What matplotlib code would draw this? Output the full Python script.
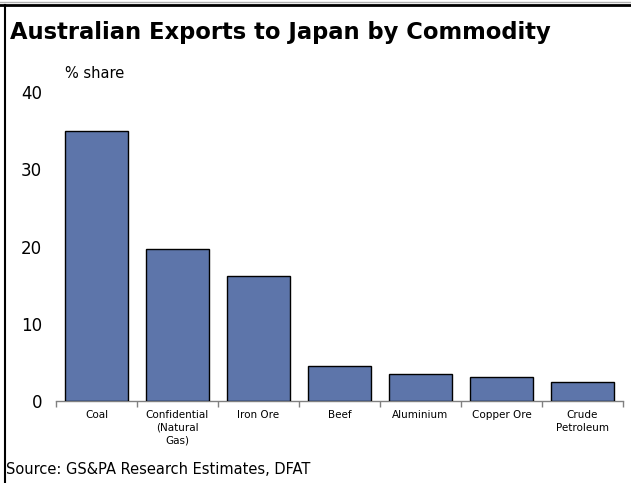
import matplotlib

matplotlib.use("Agg")
import matplotlib.pyplot as plt
import numpy as np
from matplotlib.lines import Line2D

commodities = [
    "Coal",
    "Confidential\n(Natural\nGas)",
    "Iron Ore",
    "Beef",
    "Aluminium",
    "Copper Ore",
    "Crude\nPetroleum",
]
share = [35.0, 19.7, 16.2, 4.5, 3.5, 3.1, 2.5]
y_ticks = [0, 10, 20, 30, 40]

W, H = 631, 483
fig = plt.figure(figsize=(W / 100, H / 100), dpi=100)
fig.patch.set_facecolor("white")

# plot area in pixel coordinates: x 56..623, y 92 (40) .. 401 (0)
left, right, top, bottom = 56, 623, 92, 401
ax = fig.add_axes([left / W, 1 - bottom / H, (right - left) / W, (bottom - top) / H])

x = np.arange(len(commodities))
ax.bar(x, share, width=0.77, color="#5D75AA", edgecolor="black", linewidth=1.0, zorder=3)

ax.set_xlim(-0.5, len(commodities) - 0.5)
ax.set_ylim(0, 40)
ax.set_yticks(y_ticks)
ax.set_yticklabels([str(v) for v in y_ticks], fontsize=12)
ax.tick_params(axis="y", length=0, pad=10)

# category ticks sit on the boundaries between bars
ax.set_xticks(np.arange(len(commodities) + 1) - 0.5)
ax.set_xticklabels([])
ax.tick_params(axis="x", direction="out", length=4, width=1, color="#808080")
for xi, label in zip(x, commodities):
    ax.text(xi, -1.2, label, ha="center", va="top", fontsize=7.5, linespacing=1.3)

for side in ("top", "right", "left"):
    ax.spines[side].set_visible(False)
ax.spines["bottom"].set_color("#808080")
ax.spines["bottom"].set_linewidth(1.0)
ax.set_facecolor("none")

fig.text(10 / W, 1 - 33 / H, "Australian Exports to Japan by Commodity",
         fontsize=16.3, fontweight="bold", ha="left", va="center")
fig.text(65 / W, 1 - 73 / H, "% share", fontsize=10.5, ha="left", va="center")
fig.text(6 / W, 1 - 470 / H, "Source: GS&PA Research Estimates, DFAT",
         fontsize=10.5, ha="left", va="center")

# frame lines at top and left edge
fig.add_artist(Line2D([0, 1], [1 - 2 / H, 1 - 2 / H], color="#B0B0B0", linewidth=1,
                      transform=fig.transFigure))
fig.add_artist(Line2D([0, 1], [1 - 4.5 / H, 1 - 4.5 / H], color="black", linewidth=2,
                      transform=fig.transFigure))
fig.add_artist(Line2D([5 / W, 5 / W], [0, 1 - 4.5 / H], color="black", linewidth=1.5,
                      transform=fig.transFigure))

fig.savefig("out.png", dpi=100)
